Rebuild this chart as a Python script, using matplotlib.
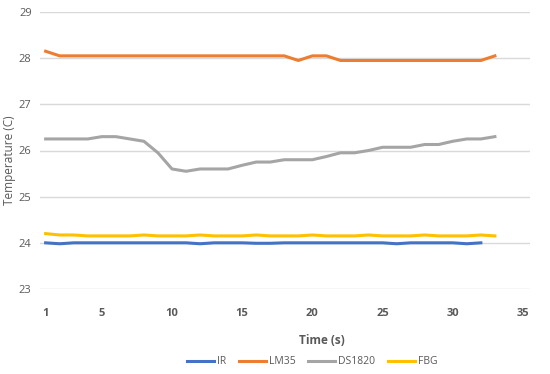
import matplotlib.pyplot as plt

# readings per second
t_ir = list(range(1, 33))
ir = [24.0, 23.98, 24.0, 24.0, 24.0, 24.0, 24.0, 24.0, 24.0, 24.0,
      24.0, 23.98, 24.0, 24.0, 24.0, 23.99, 23.99, 24.0, 24.0, 24.0,
      24.0, 24.0, 24.0, 24.0, 24.0, 23.98, 24.0, 24.0, 24.0, 24.0,
      23.98, 24.0]

t = list(range(1, 34))
lm35 = [28.15, 28.05, 28.05, 28.05, 28.05, 28.05, 28.05, 28.05, 28.05, 28.05,
        28.05, 28.05, 28.05, 28.05, 28.05, 28.05, 28.05, 28.05, 27.95, 28.05,
        28.05, 27.95, 27.95, 27.95, 27.95, 27.95, 27.95, 27.95, 27.95, 27.95,
        27.95, 27.95, 28.05]
ds1820 = [26.25, 26.25, 26.25, 26.25, 26.3, 26.3, 26.25, 26.2, 25.95, 25.6,
          25.55, 25.6, 25.6, 25.6, 25.68, 25.75, 25.75, 25.8, 25.8, 25.8,
          25.87, 25.95, 25.95, 26.0, 26.07, 26.07, 26.07, 26.13, 26.13, 26.2,
          26.25, 26.25, 26.3]
fbg = [24.2, 24.17, 24.17, 24.15, 24.15, 24.15, 24.15, 24.17, 24.15, 24.15,
       24.15, 24.17, 24.15, 24.15, 24.15, 24.17, 24.15, 24.15, 24.15, 24.17,
       24.15, 24.15, 24.15, 24.17, 24.15, 24.15, 24.15, 24.17, 24.15, 24.15,
       24.15, 24.17, 24.15]

xticks = [1, 5, 10, 15, 20, 25, 30, 35]
yticks = [23, 24, 25, 26, 27, 28, 29]

txt = '#595959'
plt.rcParams['font.family'] = ['Open Sans', 'DejaVu Sans']

fig = plt.figure(figsize=(5.5, 3.74), dpi=100)
ax = fig.add_axes([40/550, 1-289/374, 490/550, 277/374])

lw = 2.2
ax.plot(t_ir, ir, color='#4472C4', lw=lw, label='IR')
ax.plot(t, lm35, color='#ED7D31', lw=lw, label='LM35')
ax.plot(t, ds1820, color='#A5A5A5', lw=lw, label='DS1820')
ax.plot(t, fbg, color='#FFC000', lw=lw, label='FBG')

ax.set_xlim(0.6, 35.5)
ax.set_ylim(23, 29)
ax.set_xticks(xticks)
ax.set_yticks(yticks)
ax.grid(axis='y', color='#D9D9D9', lw=1)
ax.set_axisbelow(True)
for s in ax.spines.values():
    s.set_visible(False)
ax.tick_params(length=0, labelsize=8, colors=txt)
ax.tick_params(axis='y', pad=6)
ax.tick_params(axis='x', pad=14)
for lab in ax.get_xticklabels():
    lab.set_fontweight('bold')

fig.text(10/550, 1-160/374, 'Temperature (C)', rotation=90, ha='center', va='center',
         fontsize=8.5, color=txt)
fig.text(322/550, 1-341/374, 'Time (s)', ha='center', va='center',
         fontsize=8.5, color=txt, fontweight='bold')

fig.legend(loc='center', bbox_to_anchor=(312/550, 1-362/374), ncol=4, frameon=False,
           fontsize=7.5, labelcolor=txt, handlelength=2.6, handletextpad=0.3,
           columnspacing=1.2)

fig.savefig('out.png', dpi=100)
